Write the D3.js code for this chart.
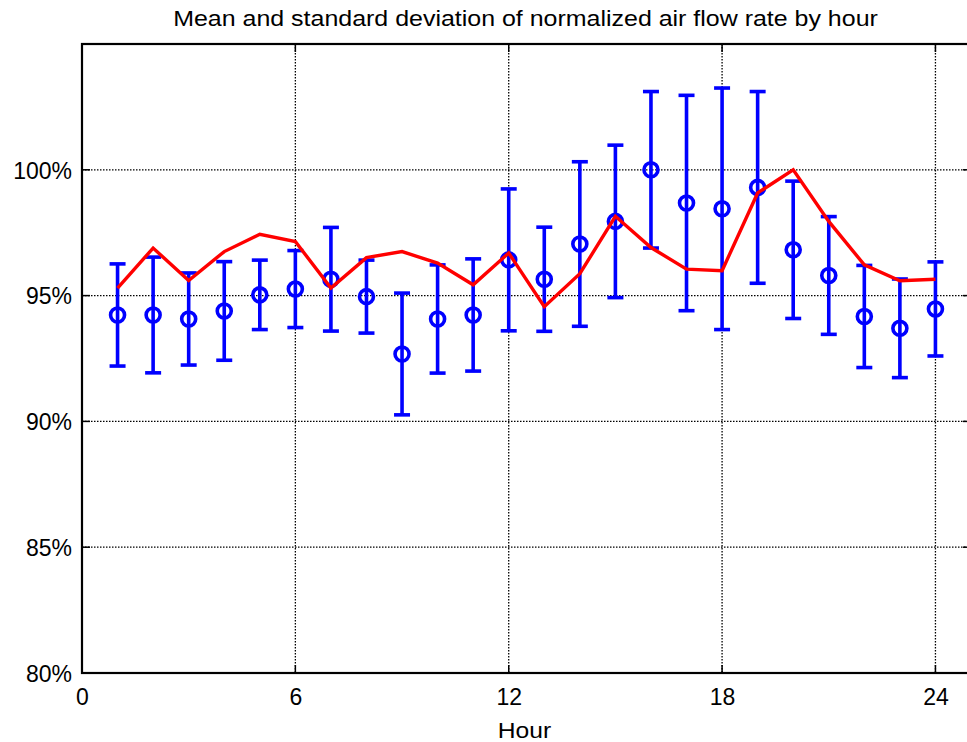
<!DOCTYPE html>
<html>
<head>
<meta charset="utf-8">
<script src="https://cdn.jsdelivr.net/npm/d3@7"></script>
<style>
    html, body { margin: 0; padding: 0; background: #fff; overflow: hidden; }
    svg { display: block; font-family: "Liberation Sans", Arial, sans-serif; }
</style>
</head>
<body>
<div id="chart"></div>
<script>
"use strict"

//-----------------------------DATA-----------------------------//
const hours = [1, 2, 3, 4, 5, 6, 7, 8, 9, 10, 11, 12, 13, 14, 15, 16, 17, 18, 19, 20, 21, 22, 23, 24];
const meanValues = [94.23, 94.23, 94.07, 94.39, 95.03, 95.26, 95.65, 94.96, 92.68, 94.07, 94.23, 96.42,
                    95.65, 97.05, 97.95, 100.0, 98.68, 98.45, 99.30, 96.82, 95.80, 94.17, 93.70, 94.47];
const stdValues = [2.03, 2.30, 1.83, 1.96, 1.38, 1.53, 2.06, 1.45, 2.42, 2.15, 2.23, 2.82,
                   2.07, 3.27, 3.03, 3.11, 4.28, 4.80, 3.81, 2.73, 2.34, 2.03, 1.96, 1.87];
const lineValues = [95.30, 96.89, 95.60, 96.75, 97.44, 97.15, 95.30, 96.51, 96.75, 96.29, 95.43, 96.69,
                    94.56, 95.87, 98.15, 96.91, 96.05, 95.99, 99.08, 100.0, 97.95, 96.22, 95.59, 95.65];
const xTicks = [0, 6, 12, 18, 24];
const yTicks = [80, 85, 90, 95, 100];

const title = "Mean and standard deviation of normalized air flow rate by hour";
const xLabel = "Hour";

//-------------------------PREPARATION--------------------------//
const width = 967;
const height = 742;
const plot = {left: 82, right: 971, top: 44, bottom: 673};

const svg = d3.select("#chart").append("svg")
    .attr("width", width)
    .attr("height", height);

const xScale = d3.scaleLinear().domain([0, 25]).range([plot.left, plot.right]);
const yScale = d3.scaleLinear().domain([80, 105]).range([plot.bottom, plot.top]);

//-----------------------------GRID-----------------------------//
const grid = svg.append("g").attr("class", "grid");

grid.selectAll("line.vgrid")
    .data(xTicks.filter(d => d > 0))
    .join("line")
    .attr("x1", d => xScale(d)).attr("x2", d => xScale(d))
    .attr("y1", plot.top).attr("y2", plot.bottom)
    .attr("stroke", "#000")
    .attr("stroke-width", 1.3)
    .attr("stroke-dasharray", "1.5,1.5");

grid.selectAll("line.hgrid")
    .data(yTicks.filter(d => d > 80))
    .join("line")
    .attr("x1", plot.left).attr("x2", plot.right)
    .attr("y1", d => yScale(d)).attr("y2", d => yScale(d))
    .attr("stroke", "#000")
    .attr("stroke-width", 1.3)
    .attr("stroke-dasharray", "1.5,1.5");

//-----------------------------AXES-----------------------------//
const xaxis = d3.axisBottom(xScale)
    .tickValues(xTicks)
    .tickSize(0)
    .tickPadding(16);

const yaxis = d3.axisLeft(yScale)
    .tickValues(yTicks)
    .tickSize(0)
    .tickPadding(10)
    .tickFormat(d => d + "%");

const xaxisEl = svg.append("g")
    .attr("transform", "translate(0," + plot.bottom + ")")
    .call(xaxis);

const yaxisEl = svg.append("g")
    .attr("transform", "translate(" + plot.left + ",0)")
    .call(yaxis);

[xaxisEl, yaxisEl].forEach(el => {
    el.select(".domain").remove();
    el.selectAll("text")
        .attr("fill", "#000")
        .style("font-size", "23px")
        .style("font-family", "'Liberation Sans', Arial, sans-serif");
});
yaxisEl.selectAll("text").attr("dy", "0.36em");

// inward tick marks on all four sides
const tickLen = 8;
const ticks = svg.append("g").attr("stroke", "#000").attr("stroke-width", 1.5);
xTicks.forEach(d => {
    ticks.append("line").attr("x1", xScale(d)).attr("x2", xScale(d))
        .attr("y1", plot.bottom).attr("y2", plot.bottom - tickLen);
    ticks.append("line").attr("x1", xScale(d)).attr("x2", xScale(d))
        .attr("y1", plot.top).attr("y2", plot.top + tickLen);
});
yTicks.forEach(d => {
    ticks.append("line").attr("x1", plot.left).attr("x2", plot.left + tickLen)
        .attr("y1", yScale(d)).attr("y2", yScale(d));
    ticks.append("line").attr("x1", plot.right).attr("x2", plot.right - tickLen)
        .attr("y1", yScale(d)).attr("y2", yScale(d));
});

// frame
svg.append("rect")
    .attr("x", plot.left).attr("y", plot.top)
    .attr("width", plot.right - plot.left)
    .attr("height", plot.bottom - plot.top)
    .attr("fill", "none")
    .attr("stroke", "#000")
    .attr("stroke-width", 2.2);

//--------------------------ERROR BARS--------------------------//
const capHalf = 8;
const bars = svg.append("g")
    .attr("stroke", "#0000ff")
    .attr("stroke-width", 3.6)
    .attr("fill", "none");

hours.forEach((h, i) => {
    const x = xScale(h);
    const yTop = yScale(meanValues[i] + stdValues[i]);
    const yBot = yScale(meanValues[i] - stdValues[i]);
    bars.append("line").attr("x1", x).attr("x2", x).attr("y1", yTop).attr("y2", yBot);
    bars.append("line").attr("x1", x - capHalf).attr("x2", x + capHalf).attr("y1", yTop).attr("y2", yTop);
    bars.append("line").attr("x1", x - capHalf).attr("x2", x + capHalf).attr("y1", yBot).attr("y2", yBot);
});

bars.selectAll("circle")
    .data(hours)
    .join("circle")
    .attr("cx", d => xScale(d))
    .attr("cy", (d, i) => yScale(meanValues[i]))
    .attr("r", 7)
    .attr("stroke-width", 3.6);

//----------------------------LINE------------------------------//
const line = d3.line()
    .x(d => xScale(d[0]))
    .y(d => yScale(d[1]));

svg.append("path")
    .datum(hours.map((h, i) => [h, lineValues[i]]))
    .attr("d", line)
    .attr("fill", "none")
    .attr("stroke", "#ff0000")
    .attr("stroke-width", 3.4)
    .attr("stroke-linejoin", "miter");

//----------------------------LABELS----------------------------//
// the reference text is a little wider than plain Arial, so stretch it sideways
svg.append("text")
    .attr("transform", "translate(" + ((plot.left + plot.right) / 2 - 1) + ",26) scale(1.135,1)")
    .attr("text-anchor", "middle")
    .style("font-size", "22px")
    .text(title);

svg.append("text")
    .attr("transform", "translate(" + ((plot.left + plot.right) / 2 - 2) + ",738) scale(1.12,1)")
    .attr("text-anchor", "middle")
    .style("font-size", "22px")
    .text(xLabel);
</script>
</body>
</html>
